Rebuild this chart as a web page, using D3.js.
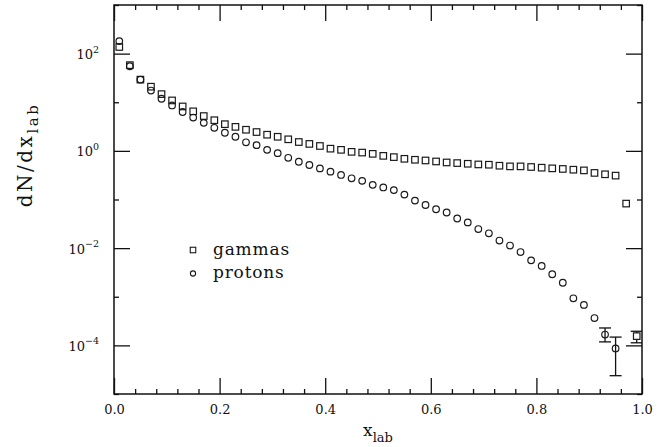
<!DOCTYPE html>
<html>
<head>
<meta charset="utf-8">
<script src="https://cdn.jsdelivr.net/npm/d3@7/dist/d3.min.js"></script>
<style>
  html, body { margin: 0; padding: 0; background: #fff; }
  svg { display: block; }
  text { font-family: "DejaVu Serif", "Liberation Serif", serif; fill: #111; }
</style>
</head>
<body>
<svg id="chart" width="671" height="447"></svg>
<script>
// Bin centres in x_lab (bin width 0.02)
const xBins = [0.01,0.03,0.05,0.07,0.09,0.11,0.13,0.15,0.17,0.19,0.21,0.23,0.25,0.27,0.29,0.31,
  0.33,0.35,0.37,0.39,0.41,0.43,0.45,0.47,0.49,0.51,0.53,0.55,0.57,0.59,0.61,0.63,0.65,0.67,
  0.69,0.71,0.73,0.75,0.77,0.79,0.81,0.83,0.85,0.87,0.89,0.91,0.93,0.95,0.97,0.99];

// dN/dx_lab for gammas (one value per bin)
const gammas = [137,58,29.2,20.9,14.7,10.9,8.2,6.5,5.2,4.27,3.54,3.12,2.72,2.44,2.15,1.95,
  1.73,1.52,1.39,1.26,1.11,1.05,0.955,0.923,0.869,0.79,0.744,0.687,0.656,0.635,0.606,0.578,
  0.561,0.543,0.526,0.519,0.495,0.48,0.48,0.466,0.451,0.437,0.425,0.41,0.397,0.352,0.33,0.31,
  0.0824,1.55e-4];
// gamma error bars [bin x, low, high]
const gammaErrors = [[0.99,1.13e-4,1.95e-4]];

// dN/dx_lab for protons (bins up to 0.95)
const protons = [181,55,29.2,17.4,11.8,8.6,6.3,4.85,3.77,2.98,2.36,1.95,1.50,1.31,1.05,0.898,
  0.72,0.597,0.512,0.436,0.374,0.32,0.273,0.242,0.200,0.177,0.156,0.126,0.095,0.077,0.063,0.054,
  0.0407,0.0338,0.0247,0.0202,0.0143,0.0113,0.0083,0.0056,0.0043,0.0029,0.00194,0.00093,0.00068,
  0.000365,0.000167,8.65e-5];
// proton error bars [bin x, low, high]
const protonErrors = [[0.93,1.18e-4,2.28e-4],[0.95,2.38e-5,1.48e-4]];

// Axis ticks
const xMajor = [0.0,0.2,0.4,0.6,0.8,1.0];
const xMinor = [0.04,0.08,0.12,0.16,0.24,0.28,0.32,0.36,0.44,0.48,0.52,0.56,0.64,0.68,0.72,0.76,0.84,0.88,0.92,0.96];
const yMajorExp = [-4,-2,0,2];
const yMinorExp = [-5,-3,-1,1,3];

const legendItems = ["gammas","protons"];

const svg = d3.select("#chart");
const L = 114, R = 642, T = 5, B = 394;
const ink = "#111";

const x = d3.scaleLinear().domain([0,1]).range([L,R]);
const y = d3.scaleLog().domain([1e-5,1e3]).range([B,T]);

function styleAxis(g){
  g.select(".domain").remove();
  g.selectAll(".tick line").attr("stroke", ink).attr("stroke-width",1.3);
}

// bottom / top
svg.append("g").attr("transform",`translate(0,${B})`)
  .call(d3.axisBottom(x).tickValues(xMajor).tickSize(-16).tickPadding(11).tickFormat(d3.format(".1f")))
  .call(styleAxis)
  .call(g=>g.selectAll("text").attr("font-size",13).attr("font-family","DejaVu Serif").attr("fill",ink));
svg.append("g").attr("transform",`translate(0,${B})`)
  .call(d3.axisBottom(x).tickValues(xMinor).tickSize(-5).tickFormat("")).call(styleAxis);
svg.append("g").attr("transform",`translate(0,${T})`)
  .call(d3.axisTop(x).tickValues(xMajor).tickSize(-16).tickFormat("")).call(styleAxis);
svg.append("g").attr("transform",`translate(0,${T})`)
  .call(d3.axisTop(x).tickValues(xMinor).tickSize(-5).tickFormat("")).call(styleAxis);

// left / right
const yMaj = yMajorExp.map(e=>Math.pow(10,e));
const yMin = yMinorExp.map(e=>Math.pow(10,e));
svg.append("g").attr("transform",`translate(${L},0)`)
  .call(d3.axisLeft(y).tickValues(yMaj).tickSize(-16).tickFormat("")).call(styleAxis);
svg.append("g").attr("transform",`translate(${L},0)`)
  .call(d3.axisLeft(y).tickValues(yMin).tickSize(-5).tickFormat("")).call(styleAxis);
svg.append("g").attr("transform",`translate(${R},0)`)
  .call(d3.axisRight(y).tickValues(yMaj).tickSize(-16).tickFormat("")).call(styleAxis);
svg.append("g").attr("transform",`translate(${R},0)`)
  .call(d3.axisRight(y).tickValues(yMin).tickSize(-5).tickFormat("")).call(styleAxis);

// y tick labels 10^n
yMajorExp.forEach(e=>{
  const t = svg.append("text").attr("x",99).attr("y",y(Math.pow(10,e))+5.5)
    .attr("text-anchor","end").attr("font-size",13);
  t.append("tspan").text("10");
  t.append("tspan").attr("dy",-6.5).attr("font-size",9.5).text(e<0 ? "\u2212"+(-e) : String(e));
});

// frame
svg.append("rect").attr("x",L).attr("y",T).attr("width",R-L).attr("height",B-T)
  .attr("fill","none").attr("stroke",ink).attr("stroke-width",1.5);

// axis titles
const xt = svg.append("text").attr("x",378).attr("y",436).attr("text-anchor","middle").attr("font-size",17);
xt.append("tspan").text("x");
xt.append("tspan").attr("dy",5.5).attr("font-size",13).text("lab");

const yt = svg.append("text").attr("transform","translate(32,155) rotate(-90)")
  .attr("text-anchor","middle").attr("font-size",20).attr("letter-spacing",2.5);
yt.append("tspan").text("dN/dx");
yt.append("tspan").attr("dy",6).attr("font-size",15).text("lab");

// markers
const plot = svg.append("g");
const sq = 6.5, rc = 3.3;
const mStroke = "#1a1a1a";

function errorBars(list){
  list.forEach(([bx,lo,hi])=>{
    const cx = x(bx);
    plot.append("line").attr("x1",cx).attr("x2",cx).attr("y1",y(lo)).attr("y2",y(hi))
      .attr("stroke",ink).attr("stroke-width",1.3);
    [lo,hi].forEach(v=>plot.append("line").attr("x1",Math.max(cx-6,L)).attr("x2",Math.min(cx+6,R))
      .attr("y1",y(v)).attr("y2",y(v)).attr("stroke",ink).attr("stroke-width",1.3));
  });
}
errorBars(gammaErrors);
errorBars(protonErrors);

plot.selectAll("rect.g").data(gammas).join("rect").attr("class","g")
  .attr("x",(d,i)=>x(xBins[i])-sq/2).attr("y",d=>y(d)-sq/2)
  .attr("width",sq).attr("height",sq)
  .attr("fill","#fff").attr("stroke",mStroke).attr("stroke-width",1.2);

plot.selectAll("circle.p").data(protons).join("circle").attr("class","p")
  .attr("cx",(d,i)=>x(xBins[i])).attr("cy",d=>y(d)).attr("r",rc)
  .attr("fill","none").attr("stroke",mStroke).attr("stroke-width",1.2);

// legend
const lg = svg.append("g");
lg.append("rect").attr("x",193-2.75).attr("y",250-2.75).attr("width",5.5).attr("height",5.5)
  .attr("fill","none").attr("stroke",mStroke).attr("stroke-width",1.1);
lg.append("circle").attr("cx",193).attr("cy",273.5).attr("r",2.6)
  .attr("fill","none").attr("stroke",mStroke).attr("stroke-width",1.1);
legendItems.forEach((s,i)=>{
  lg.append("text").attr("x",213).attr("y",254.5+i*23).attr("font-size",17).attr("letter-spacing",0.8).text(s);
});
</script>
</body>
</html>
